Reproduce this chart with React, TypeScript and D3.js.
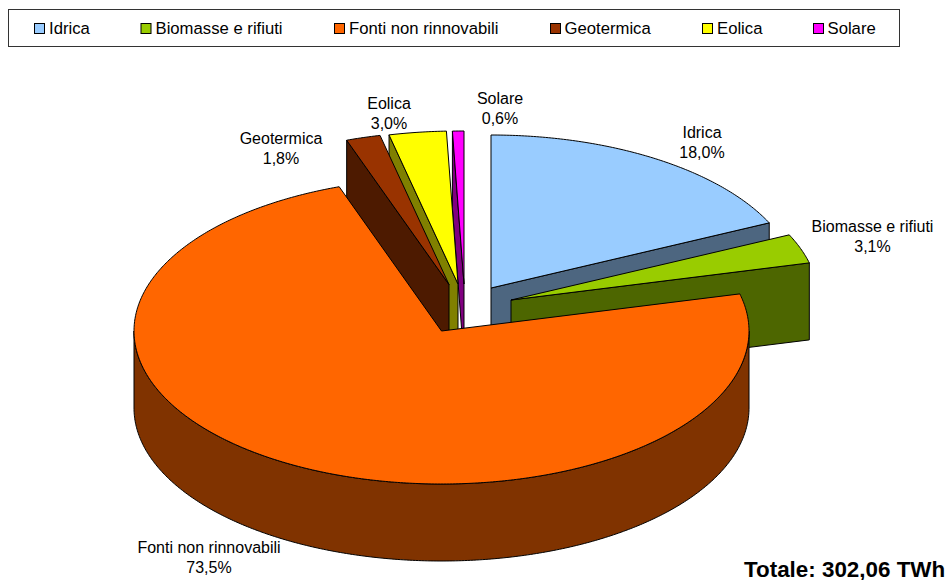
import React from "react";
import * as d3 from "d3";

const categories = ["Idrica", "Biomasse e rifiuti", "Fonti non rinnovabili", "Geotermica", "Eolica", "Solare"];
const values = [18.0, 3.1, 73.5, 1.8, 3.0, 0.6];
const valueLabels = ["18,0%", "3,1%", "73,5%", "1,8%", "3,0%", "0,6%"];
const topColors = ["#99CCFF", "#99CC00", "#FF6600", "#993300", "#FFFF00", "#FF00FF"];
const wallColors = ["#4D6680", "#4D6600", "#803300", "#4D1A00", "#808000", "#800080"];
const totalLabel = "Totale: 302,06 TWh";

// layout
const RX = 307.5;
const RY = 153;
const DEPTH = 77;
const centers: [number, number][] = [
  [491, 288],
  [511, 300],
  [441.5, 331],
  [449, 284.5],
  [458, 284],
  [464, 284],
];
const legendX: [number, number][] = [
  [34, 49], [140.5, 155.5], [334, 349], [550, 564.5], [702, 717], [813, 827.5],
];
const labelPos: [number, number][] = [
  [702, 138], [872.5, 232], [209, 553], [281, 144], [389, 109], [500, 104],
];
const paintOrder = [5, 4, 3, 0, 1, 2];

const pie = d3.pie<number>().sort(null).value((d) => d);
const arcs = pie(values);
const lineGen = d3.line<[number, number]>().x((d) => d[0]).y((d) => d[1]);

const pt = (c: [number, number], a: number, dy = 0): [number, number] => [
  c[0] + RX * Math.sin(a),
  c[1] - RY * Math.cos(a) + dy,
];
const sample = (c: [number, number], a0: number, a1: number, dy = 0) => {
  const n = Math.max(2, Math.ceil(Math.abs(a1 - a0) / 0.01));
  return d3.range(n + 1).map((i) => pt(c, a0 + ((a1 - a0) * i) / n, dy));
};

const FONT = "'Liberation Sans', Arial, sans-serif";

function Slice({ i }: { i: number }) {
  const { startAngle: a0, endAngle: a1 } = arcs[i];
  const c = centers[i];
  const top = lineGen([c, ...sample(c, a0, a1)]) + "Z";
  const parts: string[] = [];
  const bottomCenter: [number, number] = [c[0], c[1] + DEPTH];
  // only the front-facing cut wall of each exploded slice can be seen
  if (i !== 2) {
    const a = a0 > Math.PI ? a0 : a1;
    parts.push(lineGen([c, pt(c, a), pt(c, a, DEPTH), bottomCenter])! + "Z");
  }
  // outer wall visible between 90deg and 270deg
  const w0 = Math.max(a0, Math.PI / 2);
  const w1 = Math.min(a1, (3 * Math.PI) / 2);
  if (w1 > w0) {
    parts.push(lineGen([...sample(c, w0, w1), ...sample(c, w1, w0, DEPTH)])! + "Z");
  }
  return (
    <g stroke="#000" strokeWidth={1} strokeLinejoin="round">
      {parts.map((d, k) => (
        <path key={k} d={d} fill={wallColors[i]} />
      ))}
      <path d={top} fill={topColors[i]} />
    </g>
  );
}

export default function App() {
  return (
    <svg width={948} height={580} style={{ position: "absolute", left: 0, top: 0, background: "#fff" }} fontFamily={FONT}>
      <rect x={8.5} y={9.5} width={891} height={37} fill="#fff" stroke="#333" strokeWidth={1} />
      {categories.map((name, i) => (
        <g key={name}>
          <rect x={legendX[i][0] + 0.5} y={23.5} width={10} height={10} fill={topColors[i]} stroke="#000" strokeWidth={1} />
          <text x={legendX[i][1]} y={34} fontSize={16.7} fill="#000">{name}</text>
        </g>
      ))}
      {paintOrder.map((i) => (
        <Slice key={i} i={i} />
      ))}
      {categories.map((name, i) => (
        <text key={name} x={labelPos[i][0]} y={labelPos[i][1]} fontSize={16} textAnchor="middle" fill="#000">
          <tspan x={labelPos[i][0]}>{name}</tspan>
          <tspan x={labelPos[i][0]} dy={20}>{valueLabels[i]}</tspan>
        </text>
      ))}
      <text x={744} y={576.5} fontSize={22.4} fontWeight="bold" fill="#000">{totalLabel}</text>
    </svg>
  );
}
